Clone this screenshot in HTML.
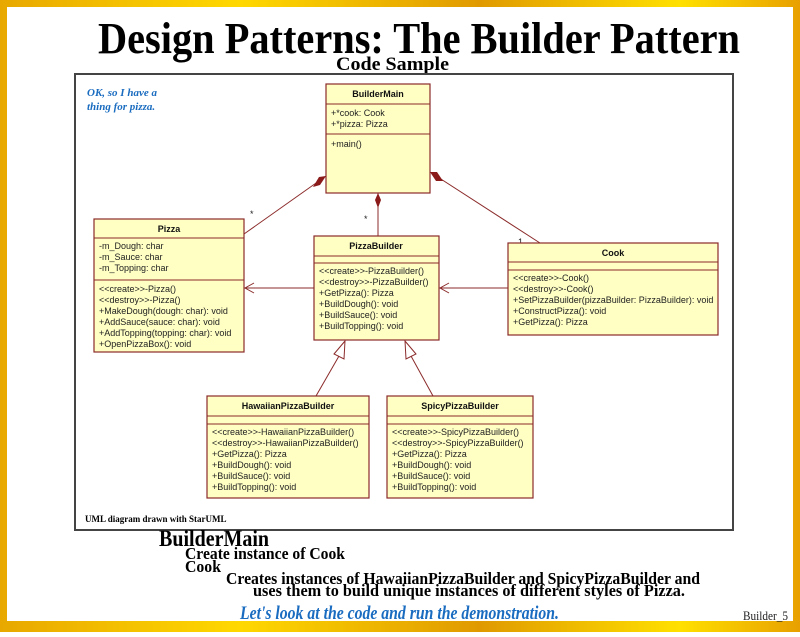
<!DOCTYPE html>
<html><head><meta charset="utf-8"><style>
html,body{margin:0;padding:0;}
body{width:800px;height:632px;overflow:hidden;}
svg text{font-family:"Liberation Sans",sans-serif;}
.s{font-family:"Liberation Serif",serif;font-weight:bold;}
.u{font-size:9px;fill:#222;}
.h{font-size:9px;font-weight:bold;fill:#111;}
.b{fill:#ffffc4;stroke:#8b2a2a;stroke-width:1.2;}
.l{stroke:#8b2a2a;stroke-width:1;fill:none;}
</style></head><body>
<svg width="800" height="632" viewBox="0 0 800 632" xmlns="http://www.w3.org/2000/svg">
<defs>
<linearGradient id="g" x1="0" y1="0" x2="1" y2="0">
<stop offset="0" stop-color="#e8a800"/><stop offset="0.3" stop-color="#ffd800"/><stop offset="0.6" stop-color="#e09a00"/><stop offset="0.85" stop-color="#ffe000"/><stop offset="1" stop-color="#e8a000"/>
</linearGradient>
</defs>
<rect width="800" height="632" fill="url(#g)"/>
<rect x="7" y="7" width="786" height="614" fill="#fff"/>
<text class="s" x="98" y="53" font-size="44" textLength="642" lengthAdjust="spacingAndGlyphs">Design Patterns: The Builder Pattern</text>
<text class="s" x="336" y="70" font-size="19" textLength="113" lengthAdjust="spacingAndGlyphs">Code Sample</text>
<rect x="75" y="74" width="658" height="456" fill="#fff" stroke="#444" stroke-width="2"/>
<text class="s" x="87" y="96" font-size="11" font-style="italic" fill="#1a6cc0">OK, so I have a</text>
<text class="s" x="87" y="110" font-size="11" font-style="italic" fill="#1a6cc0">thing for pizza.</text>
<text class="s" x="85" y="522" font-size="9" fill="#000">UML diagram drawn with StarUML</text>

<!-- connectors -->
<line class="l" x1="244" y1="234" x2="326" y2="176"/>
<polygon points="326,176 319,177 313,187 320,185" fill="#8b1a1a"/>
<line class="l" x1="378" y1="236" x2="378" y2="193"/>
<polygon points="378,193 375,200 378,208 381,200" fill="#8b1a1a"/>
<line class="l" x1="540" y1="243" x2="430" y2="172"/>
<polygon points="430,172 437,172 443,181 436,181" fill="#8b1a1a"/>
<text class="u" x="250" y="217">*</text>
<text class="u" x="364" y="222">*</text>
<text class="u" x="518" y="245" font-size="8">1</text>
<line class="l" x1="314" y1="288" x2="244" y2="288"/>
<polyline class="l" points="254,283 245,288 254,293"/>
<line class="l" x1="508" y1="288" x2="439" y2="288"/>
<polyline class="l" points="449,283 440,288 449,293"/>
<line class="l" x1="316" y1="396" x2="339" y2="356"/>
<polygon class="l" points="345,341 334,354 344,359" fill="#fff"/>
<line class="l" x1="433" y1="396" x2="411" y2="356"/>
<polygon class="l" points="405,341 406,359 416,354" fill="#fff"/>

<!-- BuilderMain -->
<rect class="b" x="326" y="84" width="104" height="109"/>
<line class="l" x1="326" y1="104" x2="430" y2="104"/>
<line class="l" x1="326" y1="134" x2="430" y2="134"/>
<text class="h" x="378" y="97" text-anchor="middle">BuilderMain</text>
<text class="u" x="331" y="116">+*cook: Cook</text>
<text class="u" x="331" y="127">+*pizza: Pizza</text>
<text class="u" x="331" y="147">+main()</text>

<!-- Pizza -->
<rect class="b" x="94" y="219" width="150" height="133"/>
<line class="l" x1="94" y1="238" x2="244" y2="238"/>
<line class="l" x1="94" y1="280" x2="244" y2="280"/>
<text class="h" x="169" y="232" text-anchor="middle">Pizza</text>
<text class="u" x="99" y="249">-m_Dough: char</text>
<text class="u" x="99" y="260">-m_Sauce: char</text>
<text class="u" x="99" y="271">-m_Topping: char</text>
<text class="u" x="99" y="292">&lt;&lt;create&gt;&gt;-Pizza()</text>
<text class="u" x="99" y="303">&lt;&lt;destroy&gt;&gt;-Pizza()</text>
<text class="u" x="99" y="314">+MakeDough(dough: char): void</text>
<text class="u" x="99" y="325">+AddSauce(sauce: char): void</text>
<text class="u" x="99" y="336">+AddTopping(topping: char): void</text>
<text class="u" x="99" y="347">+OpenPizzaBox(): void</text>

<!-- PizzaBuilder -->
<rect class="b" x="314" y="236" width="125" height="104"/>
<line class="l" x1="314" y1="256" x2="439" y2="256"/>
<line class="l" x1="314" y1="263" x2="439" y2="263"/>
<text class="h" x="376" y="249" text-anchor="middle">PizzaBuilder</text>
<text class="u" x="319" y="274">&lt;&lt;create&gt;&gt;-PizzaBuilder()</text>
<text class="u" x="319" y="285">&lt;&lt;destroy&gt;&gt;-PizzaBuilder()</text>
<text class="u" x="319" y="296">+GetPizza(): Pizza</text>
<text class="u" x="319" y="307">+BuildDough(): void</text>
<text class="u" x="319" y="318">+BuildSauce(): void</text>
<text class="u" x="319" y="329">+BuildTopping(): void</text>

<!-- Cook -->
<rect class="b" x="508" y="243" width="210" height="92"/>
<line class="l" x1="508" y1="262" x2="718" y2="262"/>
<line class="l" x1="508" y1="270" x2="718" y2="270"/>
<text class="h" x="613" y="256" text-anchor="middle">Cook</text>
<text class="u" x="513" y="281">&lt;&lt;create&gt;&gt;-Cook()</text>
<text class="u" x="513" y="292">&lt;&lt;destroy&gt;&gt;-Cook()</text>
<text class="u" x="513" y="303">+SetPizzaBuilder(pizzaBuilder: PizzaBuilder): void</text>
<text class="u" x="513" y="314">+ConstructPizza(): void</text>
<text class="u" x="513" y="325">+GetPizza(): Pizza</text>

<!-- Hawaiian -->
<rect class="b" x="207" y="396" width="162" height="102"/>
<line class="l" x1="207" y1="416" x2="369" y2="416"/>
<line class="l" x1="207" y1="424" x2="369" y2="424"/>
<text class="h" x="288" y="409" text-anchor="middle">HawaiianPizzaBuilder</text>
<text class="u" x="212" y="435">&lt;&lt;create&gt;&gt;-HawaiianPizzaBuilder()</text>
<text class="u" x="212" y="446">&lt;&lt;destroy&gt;&gt;-HawaiianPizzaBuilder()</text>
<text class="u" x="212" y="457">+GetPizza(): Pizza</text>
<text class="u" x="212" y="468">+BuildDough(): void</text>
<text class="u" x="212" y="479">+BuildSauce(): void</text>
<text class="u" x="212" y="490">+BuildTopping(): void</text>

<!-- Spicy -->
<rect class="b" x="387" y="396" width="146" height="102"/>
<line class="l" x1="387" y1="416" x2="533" y2="416"/>
<line class="l" x1="387" y1="424" x2="533" y2="424"/>
<text class="h" x="460" y="409" text-anchor="middle">SpicyPizzaBuilder</text>
<text class="u" x="392" y="435">&lt;&lt;create&gt;&gt;-SpicyPizzaBuilder()</text>
<text class="u" x="392" y="446">&lt;&lt;destroy&gt;&gt;-SpicyPizzaBuilder()</text>
<text class="u" x="392" y="457">+GetPizza(): Pizza</text>
<text class="u" x="392" y="468">+BuildDough(): void</text>
<text class="u" x="392" y="479">+BuildSauce(): void</text>
<text class="u" x="392" y="490">+BuildTopping(): void</text>

<!-- bottom text -->
<text class="s" x="159" y="546" font-size="23" textLength="110" lengthAdjust="spacingAndGlyphs">BuilderMain</text>
<text class="s" x="185" y="559" font-size="17" textLength="160" lengthAdjust="spacingAndGlyphs">Create instance of Cook</text>
<text class="s" x="185" y="572" font-size="17" textLength="36" lengthAdjust="spacingAndGlyphs">Cook</text>
<text class="s" x="226" y="584" font-size="17" textLength="474" lengthAdjust="spacingAndGlyphs">Creates instances of HawaiianPizzaBuilder and SpicyPizzaBuilder and</text>
<text class="s" x="253" y="596" font-size="17" textLength="432" lengthAdjust="spacingAndGlyphs">uses them to build unique instances of different styles of Pizza.</text>
<text class="s" x="240" y="619" font-size="19" font-style="italic" fill="#1a6cc0" textLength="319" lengthAdjust="spacingAndGlyphs">Let's look at the code and run the demonstration.</text>
<text x="743" y="620" font-size="13" fill="#222" style="font-family:'Liberation Serif',serif" textLength="45" lengthAdjust="spacingAndGlyphs">Builder_5</text>
</svg>
</body></html>
